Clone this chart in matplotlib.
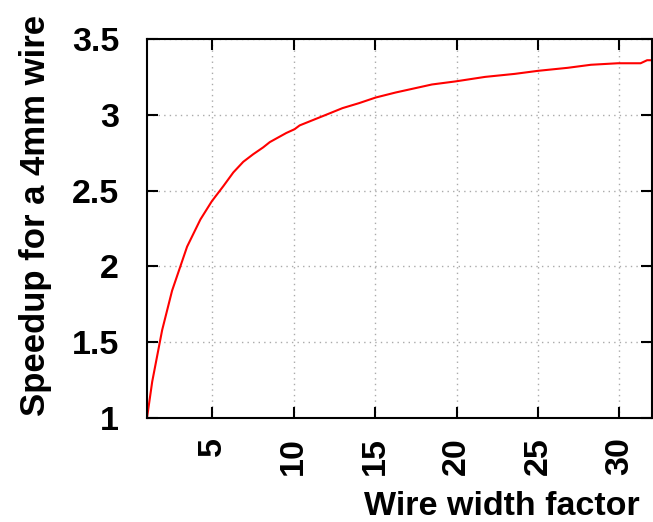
import numpy as np
import matplotlib
matplotlib.use('Agg')
import matplotlib.pyplot as plt

plt.rcParams['font.family'] = ['Liberation Sans', 'DejaVu Sans']
plt.rcParams['font.weight'] = 'bold'

# Speedup vs wire width factor
width_factor = [1.0, 1.32, 1.93, 2.54, 3.46, 4.28, 4.98, 5.69, 6.30, 6.91, 7.52,
                8.13, 8.54, 9.55, 10.06, 10.37, 11.18, 11.99, 13.0, 14.02, 15.04,
                16.26, 18.49, 19.92, 21.75, 23.58, 25.0, 26.83, 28.25, 29.9, 31.3,
                31.7, 32.0]
speedup = [1.0, 1.24, 1.58, 1.84, 2.13, 2.31, 2.43, 2.53, 2.62, 2.69, 2.74,
           2.785, 2.82, 2.88, 2.905, 2.93, 2.965, 3.0, 3.044, 3.077, 3.114,
           3.147, 3.20, 3.22, 3.25, 3.27, 3.29, 3.31, 3.33, 3.34, 3.34,
           3.36, 3.36]
x_ticks = [5, 10, 15, 20, 25, 30]
y_ticks = [1, 1.5, 2, 2.5, 3, 3.5]

fig = plt.figure(figsize=(6.53, 5.22), dpi=100)
ax = fig.add_axes([147 / 653, 1 - 418 / 522, 505 / 653, 379 / 522])

ax.plot(width_factor, speedup, color='red', lw=1.5)

ax.set_xlim(1, 32)
ax.set_ylim(1, 3.5)
ax.set_xticks(x_ticks)
ax.set_yticks(y_ticks)
ax.set_yticklabels([f'{v:g}' for v in y_ticks])
ax.set_xticklabels([str(v) for v in x_ticks], rotation=90, va='top', ha='center')

ax.grid(True, color='#aaaaaa', linestyle=(0, (1, 3)), lw=1)
ax.tick_params(direction='in', length=8, width=1.5, top=True, right=True,
               labelsize=24.5, pad=20)
ax.tick_params(axis='x', pad=14)
for s in ax.spines.values():
    s.set_linewidth(1.5)

ax.set_xlabel('Wire width factor', fontsize=24.5, fontweight='bold', ha='right')
ax.xaxis.set_label_coords(493 / 505, -73 / 379)
ax.set_ylabel('Speedup for a 4mm wire', fontsize=25, fontweight='bold')
ax.yaxis.set_label_coords(-95 / 505, 0.535)

fig.savefig('out.png', dpi=100)
